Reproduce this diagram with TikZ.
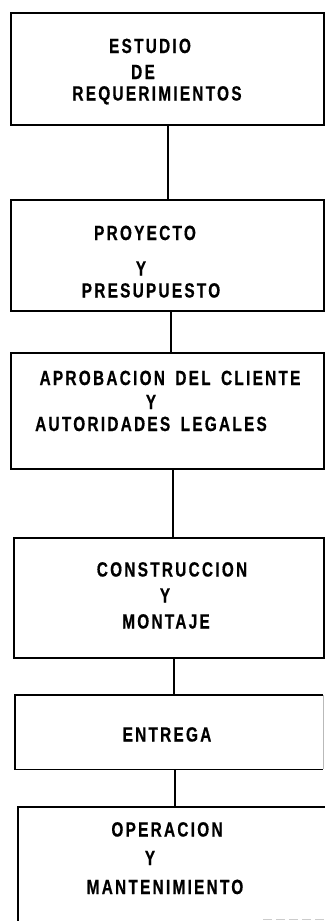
\documentclass[tikz,border=0pt]{standalone}
\usepackage{fontspec}
\newfontfamily\lettering{Liberation Sans Bold}[FakeStretch=0.75, LetterSpace=11, WordSpace=1.6, FakeBold=0.6]
\begin{document}
\begin{tikzpicture}[x=1pt,y=-1pt,
  box/.style={draw, line width=1.7pt, inner sep=0pt, anchor=north west},
  openbox/.style={inner sep=0pt, anchor=north west},
  lbl/.style={anchor=base, inner sep=0pt, font=\lettering\fontsize{20.5}{24}\selectfont},
  link/.style={line width=1.6pt},
  edge/.style={line width=1.7pt},
  faint/.style={gray!55, line width=0.8pt},
  fainter/.style={gray!40, line width=0.9pt, dash pattern=on 9pt off 4pt}]
\useasboundingbox (0,0) rectangle (325,921);
% boxes
\node[box, minimum width=313pt, minimum height=112pt] (b1) at (10,12) {};
\node[box, minimum width=313pt, minimum height=111pt] (b2) at (10,199) {};
\node[box, minimum width=313pt, minimum height=116pt] (b3) at (10,352) {};
\node[box, minimum width=310pt, minimum height=120pt] (b4) at (13,537) {};
\node[openbox, minimum width=308pt, minimum height=74pt] (b5) at (15,695) {};
\draw[edge] (b5.north east) -- (b5.north west) -- (b5.south west) -- (b5.south east);
\draw[faint] (b5.north east) -- (b5.south east);
\node[openbox, minimum width=307pt, minimum height=114pt] (b6) at (18,807) {};
\draw[edge] (b6.south west) -- (b6.north west) -- (b6.north east);
\draw[fainter] ([xshift=245pt,yshift=2pt]b6.south west) -- ([yshift=2pt]b6.south east);
% connectors
\draw[link] ([xshift=0.5pt]b1.south) -- ([xshift=0.5pt]b1.south |- b2.north);
\draw[link] ([xshift=3.5pt]b2.south) -- ([xshift=3.5pt]b2.south |- b3.north);
\draw[link] ([xshift=5.5pt]b3.south) -- ([xshift=5.5pt]b3.south |- b4.north);
\draw[link] ([xshift=5pt]b4.south) -- ([xshift=5pt]b4.south |- b5.north);
\draw[link] ([xshift=6pt]b5.south) -- ([xshift=6pt]b5.south |- b6.north);
% labels
\node[lbl] (t11) at (150,53) {ESTUDIO};
\node[lbl] (t12) at (143,79) {DE};
\node[lbl] (t13) at (157,100.5) {REQUERIMIENTOS};
\node[lbl] (t21) at (145,240) {PROYECTO};
\node[lbl] (t22) at (141,275.5) {Y};
\node[lbl] (t23) at (151,297.5) {PRESUPUESTO};
\node[lbl] (t31) at (170,385) {APROBACION DEL CLIENTE};
\node[lbl] (t32) at (151,409) {Y};
\node[lbl] (t33) at (151,431) {AUTORIDADES LEGALES};
\node[lbl] (t41) at (172,576.5) {CONSTRUCCION};
\node[lbl] (t42) at (165,602.5) {Y};
\node[lbl] (t43) at (166,628.5) {MONTAJE};
\node[lbl] (t51) at (167,741.5) {ENTREGA};
\node[lbl] (t61) at (167,836.5) {OPERACION};
\node[lbl] (t62) at (150,865) {Y};
\node[lbl] (t63) at (165,894) {MANTENIMIENTO};
\end{tikzpicture}
\end{document}
